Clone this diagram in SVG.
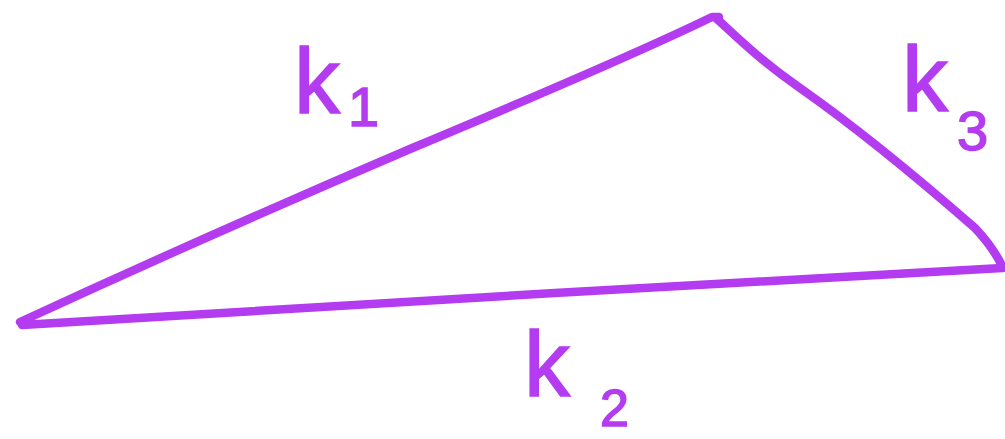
<svg xmlns="http://www.w3.org/2000/svg" width="1005" height="439" viewBox="0 0 1005 439">
<style>
.edge{fill:none;stroke:#B43CF0;stroke-width:8.5;stroke-linecap:round;stroke-linejoin:round}
.lbl{font-family:"Liberation Sans",Arial,sans-serif;fill:#B43CF0;stroke:#B43CF0;stroke-width:1.5}
.main{font-size:92px}
.sub{font-size:56px}
.sub2{font-size:52px}
</style>
<rect width="1005" height="439" fill="#ffffff"/>
<g id="connectors">
<path class="edge" d="M20,322 C150,262 300,196 410,149 C520,103 640,52 712,17 L719,17"/>
<path class="edge" d="M716,18 C740,40 760,60 800,88 C860,130 920,180 975,228 C990,244 998,257 1003,268"/>
<path class="edge" d="M22,325 C300,309 700,283 1002,268"/>
</g>
<g id="k1"><text class="lbl"><tspan class="main" x="294" y="113">k</tspan><tspan class="sub" x="348" y="126">1</tspan></text></g>
<g id="k3"><text class="lbl"><tspan class="main" x="902" y="111">k</tspan><tspan class="sub" x="957" y="150">3</tspan></text></g>
<g id="k2"><text class="lbl"><tspan class="main" x="524" y="396">k</tspan><tspan class="sub2" x="600" y="426">2</tspan></text></g>
</svg>
